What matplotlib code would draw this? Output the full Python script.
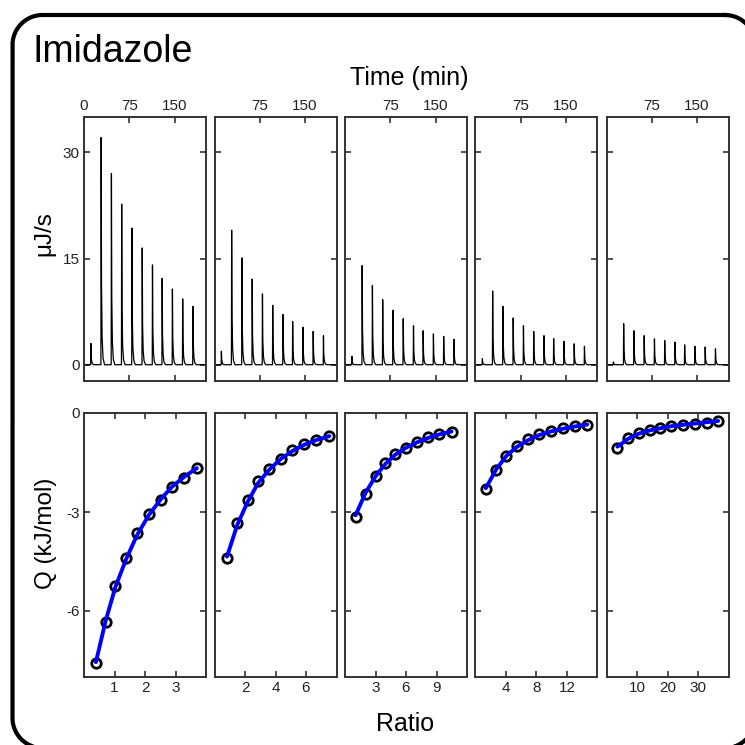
import numpy as np
import matplotlib
matplotlib.use("Agg")
import matplotlib.pyplot as plt
from matplotlib.lines import Line2D

plt.rcParams['font.family'] = ['Liberation Sans', 'DejaVu Sans']
plt.rcParams['axes.unicode_minus'] = False

# injection times (min), same for every run
inj_times = [11, 28, 45, 62, 79, 96, 113, 129, 146, 163, 180]

# peak heights (uJ/s) for the five titrations
peaks = [
    [3.0, 32.1, 27.0, 22.7, 19.3, 16.5, 14.1, 12.2, 10.7, 9.3, 8.25],
    [1.9, 19.0, 15.1, 12.1, 10.0, 8.4, 7.1, 6.1, 5.3, 4.7, 4.1],
    [1.2, 14.0, 11.2, 9.2, 7.7, 6.5, 5.5, 4.8, 4.35, 4.0, 3.6],
    [0.85, 10.4, 8.25, 6.6, 5.5, 4.7, 4.1, 3.7, 3.3, 2.95, 2.6],
    [0.4, 5.8, 4.8, 4.1, 3.65, 3.4, 3.2, 2.8, 2.6, 2.5, 2.25],
]

# integrated heats: molar ratio and Q (kJ/mol)
ratio = [
    [0.39, 0.71, 1.03, 1.39, 1.75, 2.13, 2.51, 2.88, 3.29, 3.70],
    [0.82, 1.50, 2.19, 2.85, 3.58, 4.33, 5.08, 5.85, 6.67, 7.53],
    [1.04, 2.02, 3.00, 3.98, 4.96, 6.00, 7.08, 8.13, 9.27, 10.48],
    [1.35, 2.73, 4.05, 5.46, 6.92, 8.33, 9.88, 11.42, 13.0, 14.65],
    [3.6, 7.1, 10.5, 14.1, 17.7, 21.2, 25.1, 28.9, 32.8, 36.6],
]
heat = [
    [-7.58, -6.32, -5.25, -4.38, -3.65, -3.07, -2.63, -2.23, -1.96, -1.67],
    [-4.38, -3.34, -2.65, -2.07, -1.69, -1.38, -1.13, -0.95, -0.81, -0.70],
    [-3.14, -2.45, -1.91, -1.50, -1.25, -1.05, -0.87, -0.74, -0.65, -0.57],
    [-2.30, -1.73, -1.29, -0.99, -0.80, -0.65, -0.55, -0.46, -0.40, -0.35],
    [-1.05, -0.75, -0.62, -0.52, -0.45, -0.39, -0.36, -0.33, -0.29, -0.23],
]
fit = [
    [-7.55, -6.30, -5.27, -4.41, -3.68, -3.09, -2.62, -2.24, -1.93, -1.67],
    [-4.35, -3.38, -2.68, -2.13, -1.72, -1.40, -1.16, -0.97, -0.82, -0.70],
    [-3.10, -2.42, -1.92, -1.54, -1.26, -1.05, -0.89, -0.76, -0.65, -0.56],
    [-2.28, -1.70, -1.30, -1.02, -0.82, -0.67, -0.56, -0.48, -0.41, -0.35],
    [-1.02, -0.78, -0.63, -0.53, -0.46, -0.40, -0.36, -0.32, -0.28, -0.24],
]

ratio_lims = [4, 8, 12, 16, 40]
ratio_ticks = [[1, 2, 3], [2, 4, 6], [3, 6, 9], [4, 8, 12], [10, 20, 30]]

# shape of a single injection peak (relative time, relative height)
shape_t = np.array([0.0, 0.4, 1.0, 2.0, 3.5, 6.0])
shape_h = np.array([0.0, 1.0, 0.35, 0.12, 0.03, 0.0])

W = 745.0
fig = plt.figure(figsize=(7.45, 7.45), dpi=100)

# rounded frame (pixel coords from top-left), runs off right and bottom edges
x0, x1, y0, y1, r = 12.5, 755.0, 15.0, 748.0, 30.0
corners = [(x1 - r, y0 + r, -90, 0), (x1 - r, y1 - r, 0, 90),
           (x0 + r, y1 - r, 90, 180), (x0 + r, y0 + r, 180, 270)]
fx, fy = [], []
for cx, cy, a0, a1 in corners:
    ang = np.radians(np.linspace(a0, a1, 40))
    fx.extend(cx + r * np.cos(ang))
    fy.extend(cy + r * np.sin(ang))
fx.append(fx[0])
fy.append(fy[0])
fig.add_artist(Line2D(np.array(fx) / W, 1 - np.array(fy) / W, transform=fig.transFigure,
                      color='black', lw=3.0, solid_joinstyle='round'))

spine_col = '#333333'
lefts = [84, 214.5, 345, 475.5, 606.5]
pw = 122 / W
ph = 264 / W

def style(ax):
    for s in ax.spines.values():
        s.set_color(spine_col)
        s.set_linewidth(1.4)
    ax.tick_params(direction='in', length=4.5, width=1.2, color=spine_col,
                   labelsize=11, labelcolor='#222222', pad=3,
                   top=True, bottom=True, left=True, right=True)

for i in range(5):
    # thermogram
    ax = fig.add_axes([lefts[i] / W, 1 - 381 / W, pw, ph])
    t = [0.0]
    p = [0.0]
    for t0, h in zip(inj_times, peaks[i]):
        t.extend(list(t0 + shape_t))
        p.extend(list(h * shape_h))
    t.append(202.0)
    p.append(0.0)
    ax.plot(t, p, color='black', lw=0.9)
    ax.set_xlim(0, 202)
    ax.set_ylim(-2.3, 35)
    style(ax)
    ax.xaxis.set_ticks_position('both')
    ax.tick_params(labeltop=True, labelbottom=False)
    ax.set_xticks([0, 75, 150] if i == 0 else [75, 150])
    ax.set_yticks([0, 15, 30])
    if i > 0:
        ax.tick_params(labelleft=False)

    # binding isotherm
    bx = fig.add_axes([lefts[i] / W, 1 - 677 / W, pw, ph])
    bx.plot(ratio[i], heat[i], 'o', mfc='none', mec='black', ms=6.8, mew=2.0, zorder=2)
    bx.plot(ratio[i], fit[i], color='#0000ff', lw=2.8, zorder=3, solid_capstyle='round')
    bx.set_xlim(0, ratio_lims[i])
    bx.set_ylim(-8, 0)
    style(bx)
    bx.set_xticks(ratio_ticks[i])
    bx.set_yticks([0, -3, -6])
    if i > 0:
        bx.tick_params(labelleft=False)

fig.text(32 / W, 1 - 62 / W, 'Imidazole', fontsize=27, va='baseline', ha='left')
fig.text(409 / W, 1 - 85 / W, 'Time (min)', fontsize=18, va='baseline', ha='center')
fig.text(405 / W, 1 - 731 / W, 'Ratio', fontsize=18, va='baseline', ha='center')
fig.text(44.5 / W, 1 - 234 / W, '\u03bcJ/s', fontsize=17.5, rotation=90, va='center', ha='center')
fig.text(46 / W, 1 - 533 / W, 'Q (kJ/mol)', fontsize=17.5, rotation=90, va='center', ha='center')

fig.savefig('out.png', dpi=100)
